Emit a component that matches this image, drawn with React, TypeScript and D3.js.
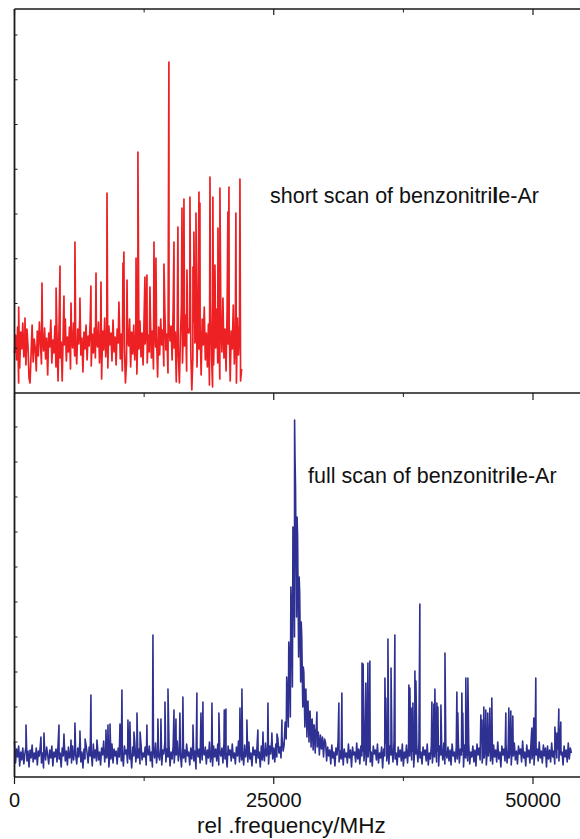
import { useMemo } from 'react';
import * as d3 from 'd3';

// frequency step of the sampled spectrum (MHz)
const STEP = 100;

// short scan: sampled trace, every STEP MHz from 0
const shortNoise = [
  40, 58, 33, 66, 10, 25, 61, 44, 70, 36, 52, 28, 64, 47, 15, 10, 39, 68, 31, 54,
  45, 22, 62, 37, 71, 50, 29, 59, 42, 65, 34, 55, 18, 60, 46, 73, 30, 53, 40, 67,
  26, 58, 12, 69, 35, 51, 12, 63, 48, 74, 32, 56, 41, 66, 24, 60, 45, 70, 37, 52,
  29, 64, 49, 76, 38, 55, 21, 61, 44, 68, 33, 57, 47, 72, 27, 59, 40, 65, 35, 53,
  46, 71, 30, 58, 14, 62, 43, 75, 36, 54, 25, 67, 48, 60, 32, 73, 41, 56, 28, 64,
  50, 78, 34, 59, 22, 66, 45, 10, 31, 57, 47, 74, 26, 61, 39, 68, 33, 55, 19, 63,
  44, 72, 36, 60, 28, 77, 49, 65, 30, 58, 41, 80, 35, 62, 24, 69, 46, 57, 16, 66,
  38, 74, 48, 63, 27, 82, 43, 59, 20, 70, 52, 67, 33, 85, 45, 61, 11, 73, 40, 10,
  55, 88, 30, 69, 47, 78, 22, 62, 60, 66, 42, 3, 36, 71, 50, 58, 26, 80, 44, 65,
  18, 74, 48, 86, 33, 60, 26, 69, 8, 92, 37, 6, 28, 77, 45, 84, 30, 67, 14, 72,
  41, 95, 35, 64, 22, 81, 49, 70, 12, 62, 44, 88, 29, 60, 10, 75, 38, 68, 12, 24,
];

// short scan: lines [MHz, intensity]
const shortLines: [number, number][] = [
  [400, 86], [1010, 75], [2650, 110], [4010, 105], [4390, 127], [4770, 97],
  [5450, 90], [5830, 151], [6310, 95], [7370, 107], [7860, 120], [8340, 111],
  [8920, 200], [10070, 91], [10460, 130], [10550, 141], [10850, 113],
  [11720, 135], [11900, 241], [12580, 116], [12770, 118], [13060, 106],
  [13450, 151], [13640, 135], [14410, 129], [14890, 331], [15380, 151],
  [15760, 166], [16150, 185], [16340, 194], [16630, 123], [16920, 196],
  [17210, 126], [17300, 161], [17500, 180], [17790, 201], [17880, 190],
  [18850, 216], [19130, 196], [19330, 128], [19620, 165], [19810, 205],
  [20580, 181], [20680, 206], [21350, 180], [21740, 214],
];

// full scan: sampled trace, every STEP MHz from 0
const fullNoise = [
  35, 14, 28, 20, 31, 11, 25, 17, 29, 13, 23, 30, 16, 26, 10, 27, 19, 32, 15, 24,
  18, 29, 12, 26, 21, 33, 14, 24, 9, 28, 17, 30, 22, 13, 27, 19, 31, 11, 25, 20,
  28, 15, 32, 18, 24, 10, 29, 21, 34, 16, 26, 12, 30, 19, 23, 14, 31, 17, 27, 22,
  13, 29, 20, 35, 15, 25, 9, 28, 18, 32, 24, 14, 30, 21, 26, 11, 33, 19, 27, 16,
  31, 17, 25, 12, 29, 22, 36, 15, 27, 19, 30, 10, 24, 18, 33, 14, 28, 21, 26, 13,
  29, 20, 34, 16, 25, 11, 31, 23, 27, 14, 32, 18, 24, 9, 30, 21, 35, 15, 26, 19,
  28, 13, 33, 17, 24, 20, 30, 12, 27, 22, 31, 16, 25, 10, 29, 19, 34, 14, 26, 21,
  17, 30, 12, 27, 23, 35, 15, 28, 20, 32, 11, 25, 18, 31, 14, 29, 22, 36, 16, 26,
  24, 10, 31, 19, 27, 15, 33, 21, 25, 12, 29, 18, 34, 16, 26, 8, 30, 20, 28, 14,
  32, 17, 25, 22, 30, 13, 27, 19, 35, 15, 24, 11, 31, 20, 28, 16, 33, 12, 26, 21,
  29, 14, 34, 18, 25, 10, 31, 22, 27, 16, 33, 19, 24, 13, 30, 21, 36, 15, 28, 17,
  26, 12, 32, 20, 29, 15, 35, 18, 24, 11, 30, 22, 27, 14, 33, 19, 25, 10, 31, 17,
  28, 16, 34, 21, 26, 13, 31, 23, 36, 18, 29, 15, 33, 20, 38, 24, 30, 19, 40, 26,
  32, 55, 38, 85, 50, 120, 60, 170, 90, 230, 140, 290, 160, 240, 120, 185, 95, 140, 70, 105,
  50, 88, 40, 76, 35, 66, 30, 58, 27, 52, 24, 48, 30, 45, 22, 42, 28, 40, 20, 38,
  34, 16, 30, 21, 27, 13, 32, 19, 25, 11, 29, 22, 35, 15, 26, 18, 31, 12, 28, 20,
  24, 14, 33, 19, 27, 10, 30, 22, 25, 15, 34, 18, 28, 13, 31, 21, 26, 16, 32, 12,
  29, 20, 35, 15, 25, 11, 31, 23, 27, 17, 33, 14, 24, 19, 30, 9, 28, 21, 34, 16,
  26, 13, 31, 22, 28, 15, 36, 18, 24, 12, 30, 20, 27, 16, 33, 11, 25, 19, 32, 14,
  29, 21, 35, 17, 26, 10, 31, 23, 28, 15, 34, 19, 25, 13, 30, 22, 27, 16, 33, 12,
  24, 18, 32, 14, 29, 20, 36, 15, 26, 11, 31, 22, 28, 17, 34, 13, 25, 19, 30, 16,
  27, 12, 33, 21, 25, 15, 30, 18, 35, 14, 28, 22, 26, 10, 32, 19, 29, 16, 34, 13,
  25, 20, 31, 15, 27, 11, 33, 22, 29, 17, 36, 14, 26, 19, 30, 12, 28, 21, 34, 16,
  24, 13, 32, 20, 27, 15, 35, 18, 25, 10, 31, 22, 28, 16, 33, 14, 26, 19, 30, 12,
  29, 21, 34, 17, 26, 13, 31, 23, 28, 15, 36, 19, 25, 11, 32, 20, 27, 14, 33, 18,
  25, 12, 30, 22, 28, 16, 35, 19, 26, 14, 32, 21, 29, 10, 31, 18, 27, 15, 34, 20,
  26, 13, 33, 19, 28, 16, 36, 22, 25, 12, 31, 20, 27, 15, 34, 18, 29, 24,
];

// full scan: lines [MHz, intensity]
const fullLines: [number, number][] = [
  [1110, 52], [2550, 40], [2840, 44], [4290, 52], [4770, 43], [5450, 37],
  [5830, 54], [6310, 46], [6810, 38], [7370, 82], [7950, 37], [8820, 47],
  [9010, 52], [9210, 53], [10170, 53], [10360, 87], [10940, 57], [11130, 55],
  [11520, 45], [11810, 64], [12110, 45], [12770, 52], [13350, 142],
  [13830, 58], [14120, 58], [14510, 75], [14800, 88], [15380, 67],
  [15570, 58], [15950, 64], [16240, 80], [17210, 52], [17590, 84],
  [17980, 64], [18170, 75], [19040, 74], [19710, 64], [20230, 67],
  [20390, 68], [21740, 69], [21930, 88], [22410, 57], [23470, 47],
  [23960, 45], [24440, 74], [24820, 44], [25310, 43], [25790, 57],
  // the strong band near 27 GHz
  [26250, 100], [26450, 135], [26650, 190], [26850, 250], [27010, 357],
  [27050, 320], [27250, 260], [27450, 200], [27650, 155], [27850, 110],
  [28050, 85], [28250, 75], [28450, 64], [28650, 57], [28850, 52],
  [29050, 47], [29160, 65],
  [31280, 74], [31570, 84], [33510, 114], [33620, 113], [33880, 94],
  [34080, 114], [34270, 116], [35720, 99], [35810, 79], [36010, 138],
  [36310, 109], [36680, 142], [38030, 92], [38130, 89], [38320, 69],
  [38420, 74], [38610, 106], [38710, 96], [39090, 173], [40250, 75],
  [40440, 73], [40540, 88], [40730, 74], [40830, 70], [41120, 72],
  [41510, 124], [42660, 85], [42750, 64], [43140, 84], [43230, 64],
  [43520, 99], [43720, 99], [44970, 62], [45070, 57], [45260, 70],
  [45450, 67], [45640, 64], [45840, 69], [46030, 79], [47380, 64],
  [47670, 69], [47860, 66], [48050, 61], [49890, 49], [50080, 59],
  [50270, 99], [52110, 50], [52310, 44], [52490, 68], [52680, 55],
];

const xMajor = [0, 25000, 50000];
const xMinor = [12500, 37500];

const W = 580;
const H = 839;
const LEFT = 14.5;
const X_END = 55000;
const TOP_Y0 = 9;
const MID_Y = 393;
const BOT_Y = 777;

function merge(noise: number[], lines: [number, number][]) {
  const pts: [number, number][] = noise.map((v, i) => [i * STEP, v]);
  return [...pts, ...lines].sort((a, b) => a[0] - b[0]);
}

function Label({ x, y, text }: { x: number; y: number; text: string }) {
  const k = text.indexOf('rile');
  return (
    <text x={x} y={y} fontSize={21.5} fill="#111">
      {text.slice(0, k + 2)}
      <tspan fontWeight="bold">l</tspan>
      {text.slice(k + 3)}
    </text>
  );
}

export default function App() {
  const x = d3.scaleLinear().domain([0, X_END]).range([LEFT, LEFT + X_END * (518.5 / 50000)]);
  const yTop = d3.scaleLinear().domain([0, 384]).range([MID_Y, TOP_Y0]);
  const yBot = d3.scaleLinear().domain([0, 384]).range([BOT_Y, MID_Y]);

  const shortPath = useMemo(() => {
    const line = d3.line<[number, number]>().x(d => x(d[0])).y(d => yTop(d[1]));
    return line(merge(shortNoise, shortLines)) ?? '';
  }, []);
  const fullPath = useMemo(() => {
    const line = d3.line<[number, number]>().x(d => x(d[0])).y(d => yBot(d[1]));
    return line(merge(fullNoise, fullLines)) ?? '';
  }, []);

  const topTicks = d3.range(44.75, 384, 44.75);
  const botTicks = d3.range(35, 384, 35);
  const xRight = x(X_END);
  const ax = '#1a1a1a';

  return (
    <svg
      width={W}
      height={H}
      style={{ position: 'absolute', left: 0, top: 0, background: '#fff' }}
      fontFamily="'Liberation Sans', Arial, sans-serif"
    >
      <path d={shortPath} fill="none" stroke="#ed2024" strokeWidth={1.7} strokeLinejoin="round" />
      <path d={fullPath} fill="none" stroke="#2e3192" strokeWidth={1.6} strokeLinejoin="round" />

      {/* frame */}
      <g stroke={ax} fill="none">
        <line x1={LEFT} x2={xRight} y1={TOP_Y0} y2={TOP_Y0} strokeWidth={1.3} />
        <line x1={LEFT} x2={xRight} y1={MID_Y} y2={MID_Y} strokeWidth={1.3} />
        <line x1={LEFT} x2={xRight} y1={BOT_Y} y2={BOT_Y} strokeWidth={1.3} />
        <line x1={LEFT} x2={LEFT} y1={TOP_Y0} y2={BOT_Y} strokeWidth={1.8} />

        {xMajor.map(t => (
          <g key={'M' + t}>
            <line x1={x(t)} x2={x(t)} y1={TOP_Y0} y2={TOP_Y0 + 6} strokeWidth={1.2} />
            <line x1={x(t)} x2={x(t)} y1={MID_Y} y2={MID_Y + 7} strokeWidth={1.2} />
            <line x1={x(t)} x2={x(t)} y1={BOT_Y} y2={BOT_Y + 7} strokeWidth={1.2} />
          </g>
        ))}
        {xMinor.map(t => (
          <g key={'m' + t}>
            <line x1={x(t)} x2={x(t)} y1={TOP_Y0} y2={TOP_Y0 + 3.5} strokeWidth={1} />
            <line x1={x(t)} x2={x(t)} y1={MID_Y} y2={MID_Y + 4} strokeWidth={1} />
            <line x1={x(t)} x2={x(t)} y1={BOT_Y} y2={BOT_Y + 4} strokeWidth={1} />
          </g>
        ))}
        {topTicks.map(t => (
          <line key={'t' + t} x1={LEFT} x2={LEFT + 3} y1={yTop(t)} y2={yTop(t)} strokeWidth={1} />
        ))}
        {botTicks.map(t => (
          <line key={'b' + t} x1={LEFT} x2={LEFT + 3} y1={yBot(t)} y2={yBot(t)} strokeWidth={1} />
        ))}
      </g>

      {xMajor.map(t => (
        <text key={'l' + t} x={x(t)} y={807} fontSize={20} textAnchor="middle" fill="#111">
          {t}
        </text>
      ))}
      <text x={197} y={833} fontSize={22.5} fill="#111">rel .frequency/MHz</text>

      <Label x={270} y={203} text="short scan of benzonitrile-Ar" />
      <Label x={308} y={483} text="full scan of benzonitrile-Ar" />
    </svg>
  );
}
